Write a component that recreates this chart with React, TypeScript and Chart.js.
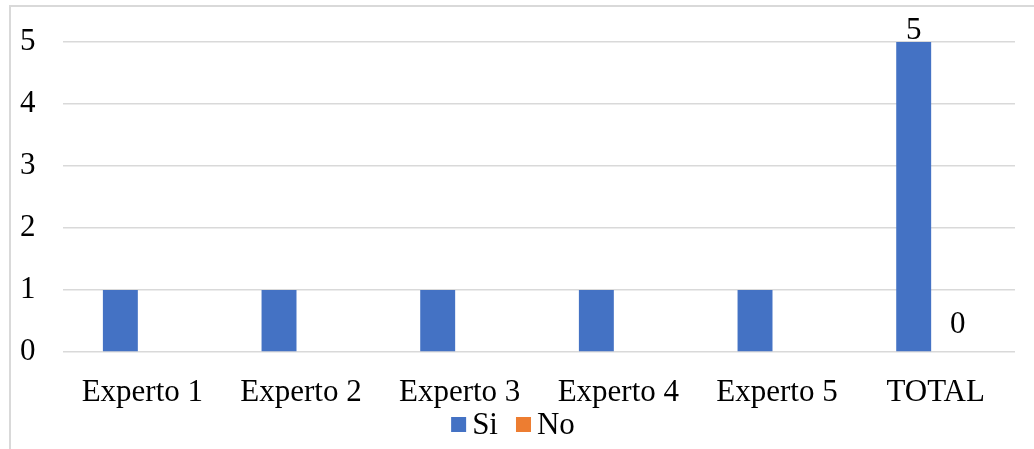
import React, { useEffect, useRef } from "react";
import { Chart, registerables } from "chart.js";

Chart.register(...registerables);

const categories = ["Experto 1", "Experto 2", "Experto 3", "Experto 4", "Experto 5", "TOTAL"];
const siValues = [1, 1, 1, 1, 1, 5];
const noValues = [0, 0, 0, 0, 0, 0];
const seriesNames = ["Si", "No"];
const seriesColors = ["#4472C4", "#ED7D31"];
const yMin = 0;
const yMax = 5;
const yStep = 1;
const labeledCategory = "TOTAL";

const FONT = "'Liberation Serif', 'Times New Roman', serif";
const FONT_SIZE = 31;

const framePlugin = {
  id: "frame",
  beforeDraw(chart: any) {
    const ctx = chart.ctx;
    ctx.save();
    ctx.strokeStyle = "#d9d9d9";
    ctx.lineWidth = 2;
    ctx.beginPath();
    ctx.moveTo(10, chart.height + 5);
    ctx.lineTo(10, 6);
    ctx.lineTo(chart.width + 5, 6);
    ctx.stroke();
    ctx.restore();
  },
};

const labelLift = [3, 19];

const valueLabelPlugin = {
  id: "valueLabels",
  afterDatasetsDraw(chart: any) {
    const ctx = chart.ctx;
    const idx = categories.indexOf(labeledCategory);
    ctx.save();
    ctx.font = `${FONT_SIZE}px ${FONT}`;
    ctx.fillStyle = "#000";
    ctx.textAlign = "center";
    ctx.textBaseline = "alphabetic";
    chart.data.datasets.forEach((ds: any, i: number) => {
      const el = chart.getDatasetMeta(i).data[idx];
      if (!el) return;
      ctx.fillText(String(ds.data[idx]), el.x, el.y - labelLift[i]);
    });
    ctx.restore();
  },
};

const legendPlugin = {
  id: "bottomLegend",
  afterDraw(chart: any) {
    const ctx = chart.ctx;
    ctx.save();
    ctx.font = `${FONT_SIZE}px ${FONT}`;
    ctx.textAlign = "left";
    ctx.textBaseline = "alphabetic";
    const box = 15;
    const gap = 6;
    const spacing = 18;
    const items = chart.data.datasets.map((ds: any) => ({
      text: ds.label,
      color: ds.backgroundColor,
      w: ctx.measureText(ds.label).width,
    }));
    const total =
      items.reduce((s: number, it: any) => s + box + gap + it.w, 0) + spacing * (items.length - 1);
    let x = chart.width / 2 - 4 - total / 2;
    const baseline = chart.height - 15;
    items.forEach((it: any) => {
      ctx.fillStyle = it.color;
      ctx.fillRect(x, baseline - 17, box, box);
      ctx.fillStyle = "#000";
      ctx.fillText(it.text, x + box + gap, baseline);
      x += box + gap + it.w + spacing;
    });
    ctx.restore();
  },
};

export default function App() {
  const ref = useRef<HTMLCanvasElement | null>(null);

  useEffect(() => {
    if (!ref.current) return;
    const chart = new Chart(ref.current, {
      type: "bar",
      data: {
        labels: categories,
        datasets: [
          {
            label: seriesNames[0],
            data: siValues,
            backgroundColor: seriesColors[0],
            categoryPercentage: 0.554,
            barPercentage: 0.795,
          },
          {
            label: seriesNames[1],
            data: noValues,
            backgroundColor: seriesColors[1],
            categoryPercentage: 0.554,
            barPercentage: 0.795,
          },
        ],
      },
      options: {
        animation: false,
        responsive: true,
        maintainAspectRatio: false,
        layout: { padding: { top: 42, right: 19, left: 20, bottom: 37 } },
        plugins: {
          tooltip: { enabled: false },
          legend: { display: false },
        },
        scales: {
          x: {
            grid: { display: false, drawTicks: false },
            border: { display: false },
            ticks: {
              color: "#000",
              padding: 22,
              maxRotation: 0,
              font: { family: FONT, size: FONT_SIZE },
            },
            afterFit: (s: any) => {
              s.height = 60;
            },
          },
          y: {
            min: yMin,
            max: yMax,
            grid: { color: "#d9d9d9", lineWidth: 1.5, drawTicks: false },
            border: { display: false },
            ticks: {
              stepSize: yStep,
              color: "#000",
              padding: 0,
              crossAlign: "far",
              font: { family: FONT, size: FONT_SIZE },
            },
            afterFit: (s: any) => {
              s.width = 43;
            },
          },
        },
      },
      plugins: [framePlugin, valueLabelPlugin, legendPlugin],
    });
    return () => chart.destroy();
  }, []);

  return (
    <div style={{ position: "absolute", left: 0, top: 0, width: 1034, height: 449, background: "#fff" }}>
      <canvas ref={ref} />
    </div>
  );
}
